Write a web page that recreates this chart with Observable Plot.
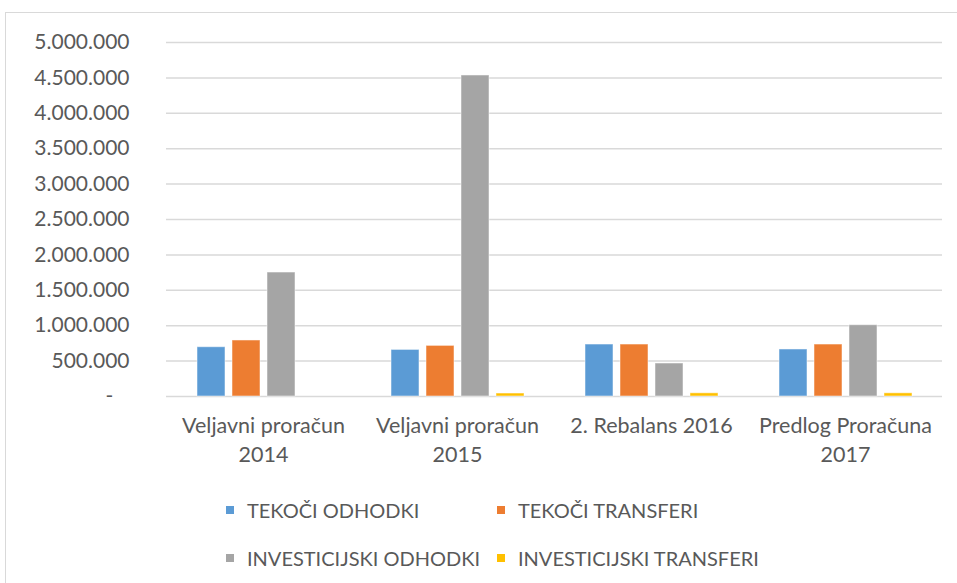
<!DOCTYPE html>
<html>
<head>
<meta charset="utf-8">
<script src="https://cdn.jsdelivr.net/npm/d3@7"></script>
<script src="https://cdn.jsdelivr.net/npm/@observablehq/plot@0.6"></script>
<style>
  html, body { margin: 0; padding: 0; background: #fff; }
  #wrap { position: relative; width: 957px; height: 583px; overflow: hidden; font-family: Lato, "Open Sans", sans-serif; }
  #frame { position: absolute; left: 5px; top: 12px; width: 970px; height: 600px; border: 1.5px solid #d9d9d9; box-sizing: border-box; }
  #chart { position: absolute; left: 0; top: 0; }
  #legend { position: absolute; left: 0; top: 0; width: 957px; height: 583px; pointer-events: none; }
  .item { position: absolute; display: flex; align-items: center; font-size: 20px; color: #595959; white-space: nowrap; }
  .sw { width: 8px; height: 8px; margin-right: 13px; flex: none; }
</style>
</head>
<body>
<div id="wrap">
  <div id="frame"></div>
  <div id="chart"></div>
  <div id="legend"></div>
</div>
<script>
const categories = ["Veljavni proračun\n2014", "Veljavni proračun\n2015", "2. Rebalans 2016", "Predlog Proračuna\n2017"];
const seriesNames = ["TEKOČI ODHODKI", "TEKOČI TRANSFERI", "INVESTICIJSKI ODHODKI", "INVESTICIJSKI TRANSFERI"];
const seriesColors = ["#5B9BD5", "#ED7D31", "#A5A5A5", "#FFC000"];
const tekociOdhodki = [696000, 658000, 734000, 664000];
const tekociTransferi = [791000, 715000, 734000, 734000];
const investicijskiOdhodki = [1751000, 4534000, 466000, 1007000];
const investicijskiTransferi = [0, 42000, 45000, 45000];
const yTicks = [0, 500000, 1000000, 1500000, 2000000, 2500000, 3000000, 3500000, 4000000, 4500000, 5000000];

const seriesValues = [tekociOdhodki, tekociTransferi, investicijskiOdhodki, investicijskiTransferi];
const data = [];
categories.forEach((c, i) => {
  seriesNames.forEach((s, j) => data.push({category: c, series: s, value: seriesValues[j][i]}));
});

const locale = d3.formatLocale({decimal: ",", thousands: ".", grouping: [3], currency: ["", ""]});
const fmt = locale.format(",d");
const yFmt = v => v === 0 ? "-\u00a0\u00a0\u00a0" : fmt(v);

const chart = Plot.plot({
  width: 957,
  height: 480,
  marginLeft: 165,
  marginRight: 15,
  marginTop: 42,
  marginBottom: 84,
  style: {fontFamily: "Lato, 'Open Sans', sans-serif", background: "transparent"},
  y: {domain: [0, 5000000], axis: null},
  x: {domain: seriesNames, axis: null, paddingInner: 0.2, paddingOuter: 0.85},
  fx: {domain: categories, padding: 0, axis: null},
  color: {domain: seriesNames, range: seriesColors},
  marks: [
    Plot.ruleY(yTicks, {y: d => d, stroke: "#d9d9d9", strokeWidth: 1.5}),
    Plot.axisY(yTicks, {tickSize: 0, tickPadding: 37, tickFormat: yFmt, fontSize: 21, fill: "#595959", label: null}),
    Plot.barY(data, {fx: "category", x: "series", y: "value", fill: "series", stroke: "white", strokeOpacity: 0.5, strokeWidth: 1}),
    Plot.axisFx({anchor: "bottom", tickSize: 0, tickPadding: 16, fontSize: 21.5, lineHeight: 1.35, fill: "#595959", label: null})
  ]
});
document.getElementById("chart").appendChild(chart);

const legend = document.getElementById("legend");
const pos = [[226, 510], [497, 510], [226, 558], [497, 558]];
seriesNames.forEach((s, i) => {
  const d = document.createElement("div");
  d.className = "item";
  d.style.left = pos[i][0] + "px";
  d.style.top = (pos[i][1] - 13) + "px";
  d.style.height = "26px";
  d.innerHTML = `<span class="sw" style="background:${seriesColors[i]}"></span><span>${s}</span>`;
  legend.appendChild(d);
});
</script>
</body>
</html>
